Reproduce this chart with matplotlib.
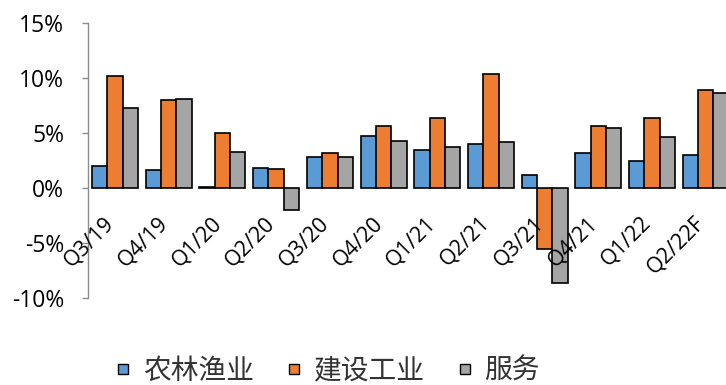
import numpy as np
import matplotlib
matplotlib.use("Agg")
import matplotlib.pyplot as plt
from matplotlib.lines import Line2D

# quarterly growth by sector (%)
quarters = ["Q3/19", "Q4/19", "Q1/20", "Q2/20", "Q3/20", "Q4/20",
            "Q1/21", "Q2/21", "Q3/21", "Q4/21", "Q1/22", "Q2/22F"]
agri = [2.0, 1.6, 0.05, 1.8, 2.8, 4.7, 3.5, 4.0, 1.2, 3.2, 2.45, 3.0]
industry = [10.2, 8.0, 5.0, 1.7, 3.2, 5.6, 6.4, 10.4, -5.5, 5.6, 6.4, 8.9]
services = [7.3, 8.1, 3.3, -2.0, 2.8, 4.3, 3.7, 4.2, -8.6, 5.5, 4.6, 8.6]
series_names = ["农林渔业", "建设工业", "服务"]
colors = ["#5B9BD5", "#ED7D31", "#A5A5A5"]

plt.rcParams['font.family'] = ['Open Sans', 'Noto Sans CJK SC', 'DejaVu Sans']

fig = plt.figure(figsize=(7.26, 3.85), dpi=100)
ax = fig.add_axes([88.2 / 726, 87 / 385, 644.4 / 726, 275 / 385])

x = np.arange(len(quarters))
w = 0.285
for k, vals in enumerate([agri, industry, services]):
    ax.bar(x + (k - 1) * w, vals, width=w, color=colors[k],
           edgecolor="black", linewidth=1.2, zorder=2)

ax.set_xlim(-0.5, len(quarters) - 0.5)
ax.set_ylim(-10, 15)
ax.set_yticks([-10, -5, 0, 5, 10, 15])
ax.set_yticklabels(["%d%%" % v for v in [-10, -5, 0, 5, 10, 15]])
ax.tick_params(axis="y", length=4.3, width=1, color="#8C8C8C",
               labelsize=16.5, pad=13)
ax.set_xticks([])
for s in ["top", "right", "bottom"]:
    ax.spines[s].set_visible(False)
ax.spines["left"].set_color("#8C8C8C")
ax.spines["left"].set_linewidth(1)

# category labels sit just under the zero line
for i, q in enumerate(quarters):
    ax.annotate(q, (i, 0), xytext=(-3, -23), textcoords="offset points",
                rotation=45, rotation_mode="anchor", ha="right", va="center",
                fontsize=15.5, zorder=5, annotation_clip=False)

handles = [Line2D([], [], linestyle="none", marker="s", markersize=7.5,
                  markerfacecolor=c, markeredgecolor="black",
                  markeredgewidth=1) for c in colors]
fig.legend(handles, series_names, ncol=3, loc="center",
           bbox_to_anchor=(0.452, 0.034), frameon=False, fontsize=20,
           handlelength=0.5, handletextpad=0.45,
           columnspacing=1.2, labelcolor="#333333")

fig.savefig("out.png", dpi=100)
